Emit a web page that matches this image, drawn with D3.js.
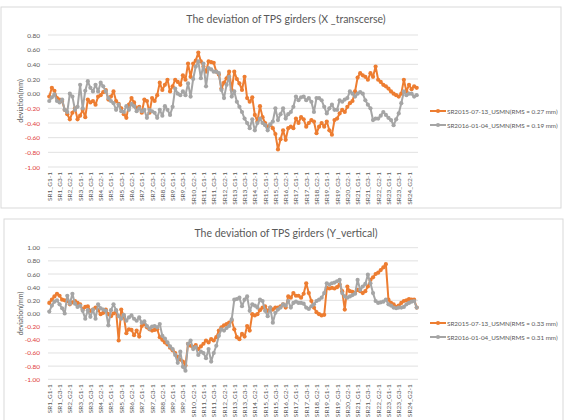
<!DOCTYPE html>
<html lang="en">
<head>
<meta charset="UTF-8">
<title>The deviation of TPS girders</title>
<script src="https://d3js.org/d3.v7.min.js"></script>
<style>
  body { margin: 0; background: #fff; }
  svg { display: block; font-family: Lato, "Open Sans", sans-serif; }
</style>
</head>
<body>
<svg id="chart" width="564" height="420"></svg>
<script>
// 24 cells x 3 girders x 2 points, one label shown every 4th
const categories = [];
for (let sr = 1; sr <= 24; sr++)
  for (let g = 1; g <= 3; g++)
    for (let k = 1; k <= 2; k++) categories.push(`SR${sr}_G${g}-${k}`);

const seriesNames = ["SR2015-07-13_USMN", "SR2016-01-04_USMN"];

// X transverse
const xDev2015 = [
  -0.04, 0.08, 0.04, -0.06, -0.08, -0.10, -0.22, -0.28, -0.35, -0.26,
  -0.20, -0.35, -0.30, -0.22, -0.32, -0.08, -0.12, -0.10, -0.15, -0.04,
  -0.02, 0.02, 0.05, -0.08, -0.04, 0.03, -0.10, -0.14, -0.20, -0.28,
  -0.33, -0.15, -0.06, -0.12, -0.20, -0.18, -0.26, -0.08, -0.10, -0.26,
  -0.06, -0.10, -0.02, 0.15, 0.05, 0.12, 0.19, 0.03, 0.10, 0.19,
  0.16, 0.12, 0.25, 0.19, 0.41, 0.23, 0.41, 0.45, 0.56, 0.44,
  0.37, 0.30, 0.44, 0.43, 0.42, 0.30, 0.26, 0.07, 0.15, 0.21,
  0.30, 0.05, 0.30, 0.20, 0.14, 0.05, 0.23, -0.06, -0.11, -0.05,
  -0.29, -0.38, -0.17, -0.32, -0.40, -0.45, -0.43, -0.47, -0.55, -0.76,
  -0.62, -0.50, -0.63, -0.47, -0.45, -0.47, -0.34, -0.40, -0.32, -0.35,
  -0.45, -0.40, -0.36, -0.38, -0.54, -0.45, -0.40, -0.45, -0.38, -0.50,
  -0.56, -0.36, -0.34, -0.27, -0.22, -0.25, -0.18, -0.13, -0.10, 0.03,
  0.22, 0.28, 0.25, 0.23, 0.19, 0.28, 0.23, 0.37, 0.19, 0.16,
  0.12, 0.10, 0.07, 0.03, 0.00, -0.02, -0.04, 0.00, 0.19, 0.03,
  0.12, 0.06, 0.10, 0.08
];
const xDev2016 = [
  -0.10, -0.05, -0.01, -0.10, -0.12, -0.08, -0.22, -0.25, 0.00, -0.04,
  -0.22, -0.18, 0.12, -0.20, 0.04, 0.17, 0.08, 0.03, 0.12, 0.03,
  0.15, 0.10, 0.03, -0.06, -0.10, -0.13, -0.22, -0.15, -0.24, -0.25,
  -0.17, -0.22, -0.14, -0.17, -0.24, -0.20, -0.24, -0.22, -0.33, -0.22,
  -0.24, -0.26, -0.33, -0.22, -0.30, -0.17, -0.22, -0.29, -0.18, 0.07,
  0.00, -0.02, 0.03, -0.02, 0.14, -0.04, 0.20, 0.37, 0.44, 0.21,
  0.41, 0.10, 0.35, 0.33, 0.30, 0.30, 0.28, 0.05, -0.06, 0.12,
  0.23, -0.04, 0.03, -0.11, -0.18, -0.25, -0.34, -0.40, -0.47, -0.35,
  -0.50, -0.40, -0.34, -0.40, -0.43, -0.50, -0.42, -0.38, -0.20, -0.36,
  -0.28, -0.20, -0.34, -0.28, -0.25, -0.18, -0.04, -0.09, -0.05, -0.04,
  -0.09, -0.06, -0.11, -0.25, -0.06, -0.06, -0.09, -0.18, -0.27, -0.20,
  -0.15, -0.22, -0.22, -0.09, -0.11, -0.08, -0.06, 0.03, 0.00, -0.04,
  0.00, 0.02, 0.00, -0.09, -0.15, -0.20, -0.36, -0.34, -0.34, -0.30,
  -0.25, -0.29, -0.33, -0.36, -0.43, -0.35, -0.27, -0.13, 0.03, -0.02,
  0.00, 0.00, -0.04, -0.02
];

// Y vertical
const yDev2015 = [
  0.16, 0.21, 0.26, 0.30, 0.27, 0.21, 0.20, 0.19, 0.14, 0.17,
  0.19, 0.16, 0.14, 0.06, 0.10, 0.11, 0.04, 0.06, 0.09, 0.05,
  -0.01, 0.01, 0.06, -0.01, -0.04, 0.00, 0.04, -0.41, 0.06, -0.04,
  -0.30, -0.24, -0.25, -0.33, -0.26, -0.35, -0.19, -0.16, -0.21, -0.24,
  -0.26, -0.25, -0.24, -0.36, -0.40, -0.44, -0.47, -0.52, -0.56, -0.60,
  -0.66, -0.70, -0.73, -0.79, -0.46, -0.49, -0.51, -0.48, -0.54, -0.50,
  -0.46, -0.41, -0.44, -0.39, -0.41, -0.36, -0.26, -0.21, -0.18, -0.16,
  -0.14, -0.11, -0.24, -0.36, -0.39, -0.31, -0.35, -0.19, -0.26, -0.01,
  -0.03, -0.01, 0.05, 0.09, 0.11, 0.04, 0.09, 0.06, 0.09, 0.09,
  0.11, 0.14, 0.09, 0.26, 0.24, 0.31, 0.27, 0.27, 0.24, 0.30,
  0.46, 0.31, 0.19, 0.09, 0.02, -0.01, -0.03, -0.02, 0.39, 0.38,
  0.39, 0.38, 0.40, 0.44, 0.34, 0.06, 0.41, 0.34, 0.33, 0.31,
  0.36, 0.34, 0.31, 0.34, 0.41, 0.51, 0.55, 0.60, 0.62, 0.66,
  0.70, 0.75, 0.21, 0.16, 0.14, 0.10, 0.12, 0.16, 0.19, 0.20,
  0.22, 0.21, 0.21, 0.09
];
const yDev2016 = [
  0.03, 0.12, 0.18, 0.20, 0.14, 0.08, 0.00, 0.27, 0.15, 0.30,
  0.15, 0.10, 0.12, 0.04, -0.08, 0.05, -0.05, 0.06, -0.08, 0.14,
  0.08, 0.06, 0.04, -0.18, 0.05, 0.14, 0.05, -0.04, -0.08, -0.02,
  -0.11, -0.06, -0.03, -0.08, -0.11, -0.06, -0.14, -0.12, -0.19, -0.23,
  -0.20, -0.19, -0.21, -0.16, -0.34, -0.38, -0.44, -0.50, -0.54, -0.63,
  -0.75, -0.58, -0.81, -0.87, -0.46, -0.41, -0.54, -0.51, -0.63, -0.58,
  -0.60, -0.68, -0.54, -0.73, -0.60, -0.49, -0.34, -0.24, -0.26, -0.22,
  -0.19, -0.09, 0.21, 0.22, 0.24, 0.11, 0.21, 0.26, 0.04, 0.14,
  0.12, 0.09, 0.21, 0.19, 0.04, -0.04, 0.09, -0.14, 0.01, 0.06,
  0.09, 0.14, 0.12, 0.19, 0.09, 0.16, 0.18, 0.16, 0.16, 0.15,
  0.09, 0.07, 0.11, 0.14, 0.19, 0.21, 0.24, 0.31, 0.46, 0.44,
  0.46, 0.47, 0.49, 0.51, 0.31, 0.26, 0.24, 0.26, 0.28, 0.30,
  0.51, 0.36, 0.41, 0.45, 0.59, 0.46, 0.31, 0.19, 0.16, 0.17,
  0.18, 0.21, 0.14, 0.12, 0.09, 0.08, 0.09, 0.09, 0.10, 0.14,
  0.16, 0.18, 0.19, 0.09
];

const xTicks = [0.8, 0.6, 0.4, 0.2, 0, -0.2, -0.4, -0.6, -0.8, -1.0];
const yTicks = [1.0, 0.8, 0.6, 0.4, 0.2, 0, -0.2, -0.4, -0.6, -0.8, -1.0];
const xRms = ["0.27", "0.19"];
const yRms = ["0.33", "0.31"];

const svg = d3.select("#chart");
const orange = "#ed7d31", grey = "#a5a5a5", textCol = "#595959";

function fmt(v) {
  const s = Math.abs(v).toFixed(2);
  return v < -1e-9 ? "-" + s : s;
}

function drawPanel(p) {
  const g = svg.append("g");
  g.append("rect")
    .attr("x", p.frame[0]).attr("y", p.frame[1])
    .attr("width", p.frame[2]).attr("height", p.frame[3])
    .attr("fill", "#fff").attr("stroke", "#d9d9d9");

  const x = d3.scalePoint().domain(categories).range([48, 418]).padding(0.5);
  const y = d3.scaleLinear().domain(d3.extent(p.ticks)).range([p.bottom, p.top]);

  g.selectAll(".grid").data(p.ticks).join("line")
    .attr("x1", 48).attr("x2", 418)
    .attr("y1", d => y(d)).attr("y2", d => y(d))
    .attr("stroke", "#d9d9d9").attr("stroke-width", 0.8);

  g.selectAll(".ylab").data(p.ticks).join("text")
    .attr("x", 40).attr("y", d => y(d))
    .attr("text-anchor", "end").attr("dominant-baseline", "central")
    .attr("font-size", 6.5)
    .attr("fill", d => d < -1e-9 ? "#e0403c" : textCol)
    .text(fmt);

  g.append("text")
    .attr("transform", `translate(20,${(p.top + p.bottom) / 2}) rotate(-90)`)
    .attr("text-anchor", "middle").attr("dominant-baseline", "central")
    .attr("font-size", 7).attr("fill", textCol)
    .text("deviation(mm)");

  g.selectAll(".xlab").data(categories.filter((d, i) => i % 4 === 0)).join("text")
    .attr("transform", d => `translate(${x(d)},${p.bottom + 5}) rotate(-90)`)
    .attr("text-anchor", "end").attr("dominant-baseline", "central")
    .attr("font-size", 6.5).attr("fill", textCol)
    .text(d => d);

  g.append("text")
    .attr("x", 286).attr("y", p.titleY)
    .attr("text-anchor", "middle").attr("dominant-baseline", "central")
    .attr("font-size", 10.5).attr("fill", textCol)
    .text(p.title);

  const line = d3.line().x((d, i) => x(categories[i])).y(d => y(d));
  p.series.forEach((s, k) => {
    g.append("path").datum(s.values)
      .attr("d", line).attr("fill", "none")
      .attr("stroke", s.color).attr("stroke-width", 2)
      .attr("stroke-linejoin", "round");
    g.append("g").selectAll("circle").data(s.values).join("circle")
      .attr("cx", (d, i) => x(categories[i])).attr("cy", d => y(d))
      .attr("r", 2.1).attr("fill", s.color);

    const ly = p.legendY + k * 14;
    g.append("line").attr("x1", 430).attr("x2", 446).attr("y1", ly).attr("y2", ly)
      .attr("stroke", s.color).attr("stroke-width", 2);
    g.append("circle").attr("cx", 438).attr("cy", ly).attr("r", 2.1).attr("fill", s.color);
    g.append("text").attr("x", 447).attr("y", ly)
      .attr("dominant-baseline", "central")
      .attr("font-size", 6.3).attr("fill", textCol)
      .text(s.label);
  });
}

drawPanel({
  frame: [1, 7, 560, 201],
  top: 35, bottom: 167, ticks: xTicks,
  title: "The deviation of TPS girders (X _transcerse)", titleY: 19,
  legendY: 111,
  series: [
    { values: xDev2015, color: orange, label: `${seriesNames[0]}(RMS = ${xRms[0]} mm)` },
    { values: xDev2016, color: grey, label: `${seriesNames[1]}(RMS = ${xRms[1]} mm)` }
  ]
});

drawPanel({
  frame: [4, 219, 559, 210],
  top: 247.7, bottom: 379.3, ticks: yTicks,
  title: "The deviation of TPS girders (Y_vertical)", titleY: 232.5,
  legendY: 323,
  series: [
    { values: yDev2015, color: orange, label: `${seriesNames[0]}(RMS = ${yRms[0]} mm)` },
    { values: yDev2016, color: grey, label: `${seriesNames[1]}(RMS = ${yRms[1]} mm)` }
  ]
});
</script>
</body>
</html>
